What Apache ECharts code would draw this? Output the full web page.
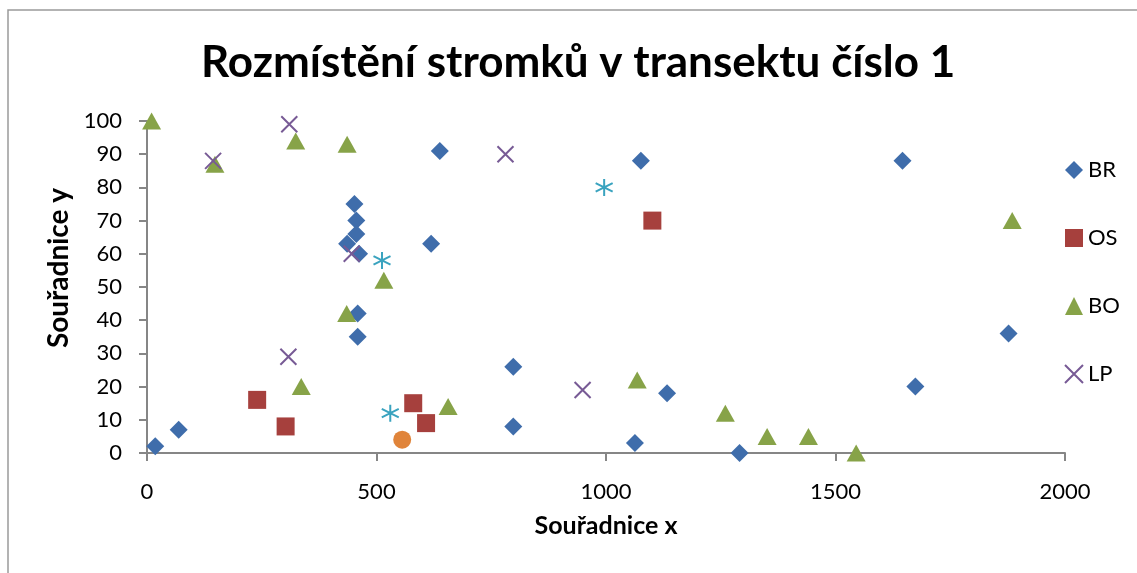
<!DOCTYPE html>
<html>
<head>
<meta charset="utf-8">
<script src="https://cdn.jsdelivr.net/npm/echarts@6/dist/echarts.min.js"></script>
<style>
  html, body { margin: 0; padding: 0; background: #fff; }
  #main { width: 1137px; height: 573px; }
</style>
</head>
<body>
<div id="main"></div>
<script>
// body pozice stromku [x, y]
const br = [
  [18, 2], [69, 7], [452, 75], [456, 70], [456, 66], [436, 63], [462, 60],
  [638, 91], [619, 63], [459, 42], [459, 35], [798, 26], [798, 8], [1076, 88],
  [1133, 18], [1063, 3], [1291, 0], [1646, 88], [1877, 36], [1674, 20]
];
const os = [[240, 16], [302, 8], [580, 15], [608, 9], [1101, 70]];
const bo = [
  [10, 100], [148, 87], [324, 94], [436, 93], [516, 52], [435, 42], [336, 20],
  [656, 14], [1068, 22], [1260, 12], [1351, 5], [1441, 5], [1545, 0], [1885, 70]
];
const lp = [[144, 88], [310, 99], [446, 60], [781, 90], [949, 19], [308, 29]];
const star = [[512, 58], [530, 12], [996, 80]];
const circle = [[556, 4]];

const legendNames = ["BR", "OS", "BO", "LP"];

var font = "Lato, 'Open Sans', sans-serif";
var myChart = echarts.init(document.getElementById("main"));

myChart.setOption({
  animation: false,
  textStyle: { fontFamily: font },
  title: {
    text: "Rozmístění stromků v transektu číslo 1",
    left: 196,
    top: 36,
    textStyle: { fontSize: 44, fontWeight: "bold", color: "#000", fontFamily: font }
  },
  graphic: [
    {
      type: "rect",
      shape: { x: 8, y: 10, width: 1200, height: 620 },
      style: { fill: "none", stroke: "#9a9a9a", lineWidth: 1.5 }
    },
    {
      // nazev osy y
      type: "text",
      x: 59,
      y: 268,
      rotation: Math.PI / 2,
      style: {
        text: "Souřadnice y",
        fontFamily: font,
        fontSize: 28,
        fontWeight: "bold",
        fill: "#000",
        align: "center",
        verticalAlign: "middle"
      }
    }
  ],
  legend: {
    data: legendNames,
    orient: "vertical",
    left: 1064,
    top: 159,
    padding: 0,
    itemWidth: 18,
    itemHeight: 18,
    itemGap: 46,
    textStyle: { fontSize: 22, color: "#000" }
  },
  grid: { left: 147, right: 72, top: 121, bottom: 120 },
  xAxis: {
    type: "value",
    min: 0,
    max: 2000,
    interval: 500,
    name: "Souřadnice x",
    nameLocation: "middle",
    nameGap: 60,
    nameTextStyle: { fontSize: 25, fontWeight: "bold", color: "#000" },
    splitLine: { show: false },
    axisLine: { show: true, lineStyle: { color: "#868686", width: 2 } },
    axisTick: { show: true, length: 8, lineStyle: { color: "#868686", width: 2 } },
    axisLabel: { fontSize: 22, color: "#000", margin: 28, formatter: function (v) { return String(v); } }
  },
  yAxis: {
    type: "value",
    min: 0,
    max: 100,
    interval: 10,
    splitLine: { show: false },
    axisLine: { show: true, lineStyle: { color: "#868686", width: 2 } },
    axisTick: { show: true, length: 8, lineStyle: { color: "#868686", width: 2 } },
    axisLabel: { fontSize: 22, color: "#000", margin: 25 }
  },
  series: [
    {
      name: "BR",
      type: "scatter",
      symbol: "diamond",
      symbolSize: 18,
      itemStyle: { color: "#3F6DAB", opacity: 1 },
      data: br
    },
    {
      name: "OS",
      type: "scatter",
      symbol: "rect",
      symbolSize: 18,
      itemStyle: { color: "#A6403D", opacity: 1 },
      data: os
    },
    {
      name: "BO",
      type: "scatter",
      symbol: "triangle",
      symbolSize: [19, 17],
      itemStyle: { color: "#87A348", opacity: 1 },
      data: bo
    },
    {
      name: "LP",
      type: "scatter",
      symbol: "path://M0,0L10,10M10,0L0,10",
      symbolSize: 16,
      itemStyle: { color: "rgba(0,0,0,0)", borderColor: "#775A95", borderWidth: 2, opacity: 1 },
      data: lp
    },
    {
      name: "hvezda",
      type: "scatter",
      symbol: "path://M5,0L5,10M0.7,2.5L9.3,7.5M0.7,7.5L9.3,2.5",
      symbolSize: 17,
      itemStyle: { color: "rgba(0,0,0,0)", borderColor: "#3AA3BF", borderWidth: 2, opacity: 1 },
      data: star
    },
    {
      name: "kruh",
      type: "scatter",
      symbol: "circle",
      symbolSize: 18,
      itemStyle: { color: "#E0843A", opacity: 1 },
      data: circle
    }
  ]
});
</script>
</body>
</html>
